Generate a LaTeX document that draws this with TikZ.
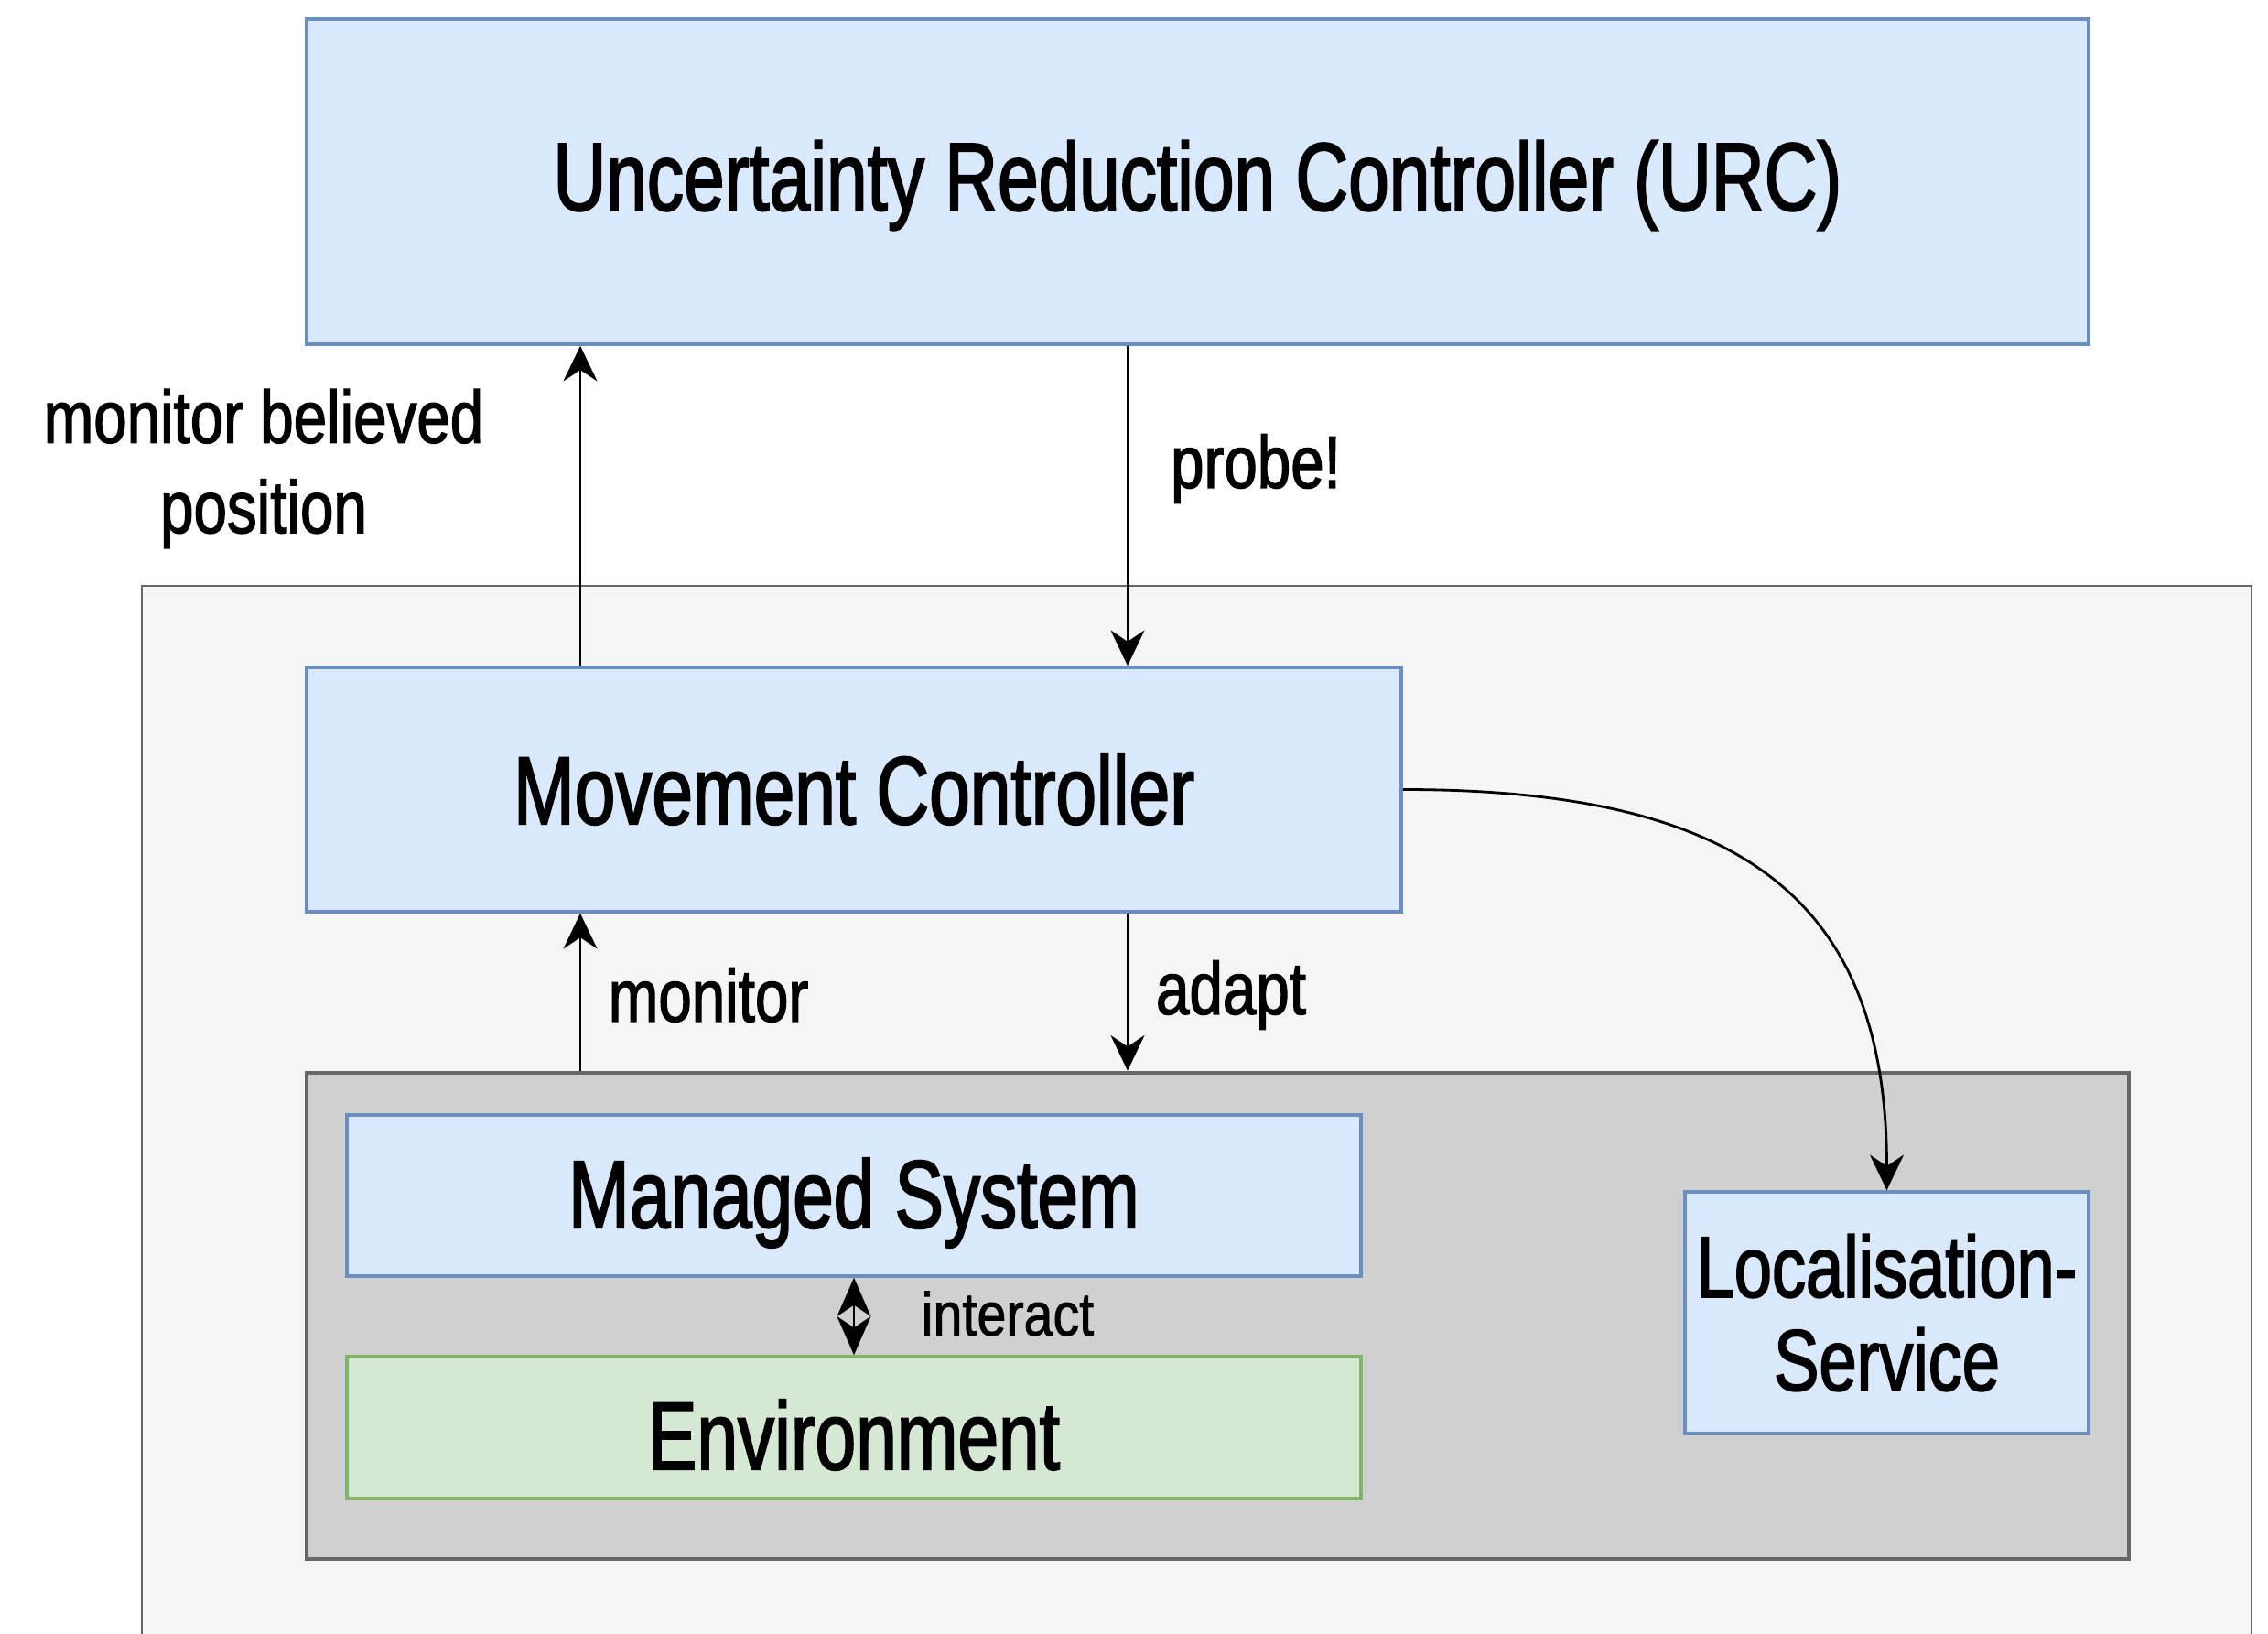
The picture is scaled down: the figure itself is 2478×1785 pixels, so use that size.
\documentclass[tikz,border=0pt]{standalone}
\usepackage{fontspec}
\setmainfont[FakeStretch=0.76,FakeBold=1.8]{Liberation Sans}
\newfontfamily\lblfont[FakeStretch=0.81,FakeBold=1.6]{Liberation Sans}
\newfontfamily\locfont[FakeStretch=0.78,FakeBold=1.8]{Liberation Sans}
\newfontfamily\smallfont[FakeStretch=0.86,FakeBold=1.3]{Liberation Sans}
\usetikzlibrary{arrows.meta,fit}

\definecolor{bluefill}{HTML}{DAE8FC}
\definecolor{blueline}{HTML}{6C8EBF}
\definecolor{greenfill}{HTML}{D5E8D4}
\definecolor{greenline}{HTML}{82B366}
\definecolor{outerfill}{HTML}{F5F5F5}
\definecolor{outerline}{HTML}{666666}
\definecolor{innerfill}{HTML}{D0D0D0}

\tikzset{
  bluebox/.style={draw=blueline, fill=bluefill, line width=1pt, inner sep=0pt, align=center},
  greenbox/.style={draw=greenline, fill=greenfill, line width=1pt, inner sep=0pt, align=center},
  bigtext/.style={font=\fontsize{30}{34}\selectfont},
  midtext/.style={font=\locfont\fontsize{27}{29}\selectfont},
  lbl/.style={font=\lblfont\fontsize{23}{28}\selectfont, align=center, inner sep=0pt},
  smalllbl/.style={font=\smallfont\fontsize{19}{22}\selectfont, inner sep=0pt},
  conn/.style={line width=0.8pt, -{Stealth[length=11pt,width=10.5pt,inset=3.5pt]}},
  twoway/.style={line width=0.8pt,
    {Stealth[length=12pt,width=10.5pt,inset=3.5pt]}-{Stealth[length=12pt,width=10.5pt,inset=3.5pt]}},
}

\begin{document}
\begin{tikzpicture}[x=0.01cm,y=-0.01cm]
\useasboundingbox (0,0) rectangle (2478,1785);
\fill[white] (0,0) rectangle (2478,1785);

% surrounding containers
\node[draw=outerline, fill=outerfill, line width=0.6pt, inner sep=0pt,
      fit={(155,640) (2460,1830)}] (outer) {};
\node[draw=outerline, fill=innerfill, line width=1.3pt, inner sep=0pt,
      fit={(335,1172) (2326,1703)}] (inner) {};

% components
\node[bluebox, fit={(335,21) (2282,376)}] (urc) {};
\node[bigtext] at ([yshift=-0.04cm]urc.center) {Uncertainty Reduction Controller (URC)};

\node[bluebox, fit={(335,729) (1531,996)}] (mc) {};
\node[bigtext] at (mc.center) {Movement Controller};

\node[bluebox, fit={(379,1218) (1487,1394)}] (ms) {};
\node[bigtext] at ([yshift=-0.08cm]ms.center) {Managed System};

\node[greenbox, fit={(379,1482) (1487,1637)}] (env) {};
\node[bigtext] at ([yshift=-0.08cm]env.center) {Environment};

\node[bluebox, fit={(1841,1302) (2282,1566)}] (loc) {};
\node[midtext, align=center] at (loc.center) {Localisation-\\Service};

% connectors
\draw[conn] (mc.north -| 634,0) -- (urc.south -| 634,0);
\draw[conn] (urc.south -| 1232,0) -- (mc.north -| 1232,0);
\draw[conn] (inner.north -| 634,0) -- (mc.south -| 634,0);
\draw[conn] (mc.south -| 1232,0) -- (inner.north -| 1232,0);
\draw[twoway] (ms.south) -- (env.north);
\draw[conn] (mc.east) .. controls +(365,0) and +(0,-322) .. (loc.north);

% labels
\node[lbl] (lmbp) at (288,512) {monitor believed\\position};
\node[lbl] (lprobe) at (1372,512) {probe!};
\node[lbl] (lmon) at (774,1087) {monitor};
\node[lbl] (ladapt) at (1345,1087) {adapt};
\node[smalllbl] (linter) at (1101,1435) {interact};
\end{tikzpicture}
\end{document}
